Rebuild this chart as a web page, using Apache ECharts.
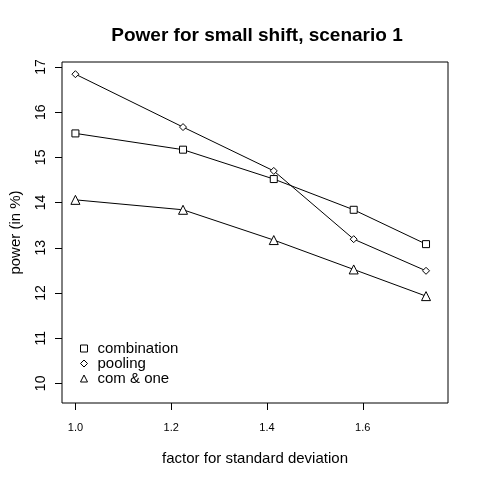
<!DOCTYPE html>
<html>
<head>
<meta charset="utf-8">
<script src="https://cdn.jsdelivr.net/npm/echarts@6/dist/echarts.min.js"></script>
<style>html,body{margin:0;padding:0;background:#fff}#c{width:480px;height:480px}</style>
</head>
<body>
<div id="c"></div>
<script>
var xValues = [1.0, 1.2247, 1.4142, 1.5811, 1.7321];
var combination = [15.53, 15.17, 14.52, 13.84, 13.08];
var pooling = [16.84, 15.67, 14.70, 13.19, 12.49];
var comOne = [14.06, 13.84, 13.17, 12.52, 11.93];
var xTicks = [1.0, 1.2, 1.4, 1.6];
var yTicks = [10, 11, 12, 13, 14, 15, 16, 17];
var seriesNames = ['combination', 'pooling', 'com & one'];

function pairs(ys) { return xValues.map(function (x, i) { return [x, ys[i]]; }); }

var FONT = 'Liberation Sans';
var chart = echarts.init(document.getElementById('c'), null, { renderer: 'canvas' });
var sym = { color: '#fff', borderColor: '#000', borderWidth: 1 };
function mk(name, data, symbol, size) {
  return {
    name: name, type: 'line', data: pairs(data), symbol: symbol, symbolSize: size,
    showAllSymbol: true, animation: false,
    lineStyle: { color: '#000', width: 1 },
    itemStyle: sym
  };
}
chart.setOption({
  animation: false,
  backgroundColor: '#fff',
  textStyle: { fontFamily: FONT },
  title: {
    text: 'Power for small shift, scenario 1',
    left: 252, top: 21, textAlign: 'center',
    textStyle: { fontFamily: FONT, fontWeight: 'bold', fontSize: 19, color: '#000' }
  },
  grid: { left: 62, right: 32, top: 62, bottom: 77, show: true, borderColor: '#000', borderWidth: 1, backgroundColor: 'transparent' },
  legend: {
    orient: 'vertical', left: 80, top: 341, itemGap: 0, padding: 0,
    itemWidth: 7, itemHeight: 7,
    textStyle: { fontFamily: FONT, fontSize: 15, color: '#000', padding: [0, 0, 0, 5] },
    data: [
      { name: seriesNames[0], icon: 'rect', itemStyle: sym },
      { name: seriesNames[1], icon: 'diamond', itemStyle: sym },
      { name: seriesNames[2], icon: 'triangle', itemStyle: sym }
    ]
  },
  xAxis: {
    type: 'value', min: 0.972, max: 1.778,
    name: 'factor for standard deviation', nameLocation: 'middle', nameGap: 48,
    nameTextStyle: { fontFamily: FONT, fontSize: 15, color: '#000' },
    axisLine: { show: false },
    axisTick: { show: true, length: 7, lineStyle: { color: '#000' }, customValues: xTicks },
    axisLabel: { color: '#000', fontSize: 11, fontFamily: FONT, margin: 19, customValues: xTicks,
      formatter: function (v) { return v.toFixed(1); } },
    splitLine: { show: false }
  },
  yAxis: {
    type: 'value', min: 9.565, max: 17.11,
    name: 'power (in %)', nameLocation: 'middle', nameGap: 39, nameRotate: 90,
    nameTextStyle: { fontFamily: FONT, fontSize: 15, color: '#000' },
    axisLine: { show: false },
    axisTick: { show: true, length: 7, lineStyle: { color: '#000' }, customValues: yTicks },
    axisLabel: { color: '#000', fontSize: 14, fontFamily: FONT, margin: 14, rotate: 90, customValues: yTicks },
    splitLine: { show: false }
  },
  series: [
    mk(seriesNames[0], combination, 'rect', 7),
    mk(seriesNames[1], pooling, 'diamond', 7),
    mk(seriesNames[2], comOne, 'triangle', 9)
  ]
});
</script>
</body>
</html>
